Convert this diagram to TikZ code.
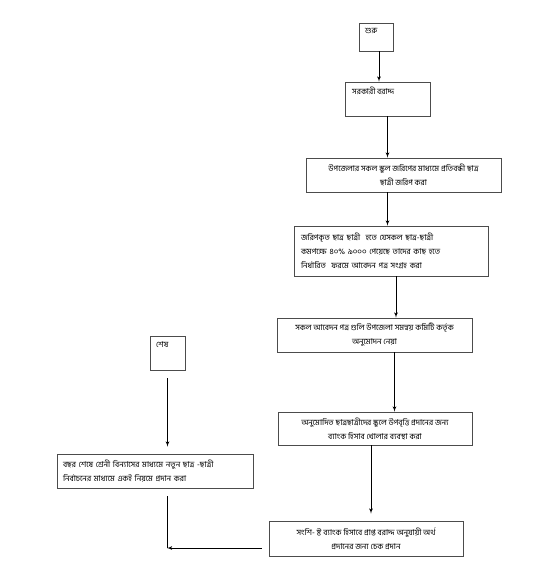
\documentclass[tikz,border=0pt]{standalone}
\usepackage{fontspec}
\newfontfamily\bnfont[Script=Bengali]{Hind Siliguri}
\usepackage{tikz}
\usetikzlibrary{positioning}
\usetikzlibrary{shapes,backgrounds,arrows}
\tikzstyle{line} = [draw, line width=0.8pt, -latex']
\tikzstyle{plain} = [draw, line width=0.8pt]
\tikzstyle{block} = [draw=black!70, line width=0.8pt, rectangle, inner sep=0pt,
  font=\bnfont\fontsize{8}{14}\selectfont]

\begin{document}
\begin{tikzpicture}[x=1pt, y=-1pt]
	\useasboundingbox (0,0) rectangle (534,571);

	% main column
	\node[block, minimum width=34pt, minimum height=28pt] (start) at (376,37) {};
	\node[anchor=north west, inner sep=0pt, font=\bnfont\fontsize{8}{14}\selectfont] (starttxt) at (365,28) {শুরু};
	\node[block, minimum width=85pt, minimum height=34pt] (gov) at (387.5,99) {};
	\node[anchor=north west, inner sep=0pt, font=\bnfont\fontsize{8}{14}\selectfont] (govtxt) at (352,87) {সরকারী বরাদ্দ};
	\node[block, minimum width=195pt, minimum height=34pt, align=center] (survey) at (403.5,175)
		{উপজেলার সকল স্কুল জরিপের মাধ্যমে প্রতিবন্ধী ছাত্র\\ছাত্রী জরিপ করা};
	\node[block, minimum width=194pt, minimum height=50pt, text width=180pt, align=left] (collect) at (391,251)
		{জরিপকৃত ছাত্র ছাত্রী\ \ হতে যেসকল ছাত্র-ছাত্রী\\কমপক্ষে ৪০\% ৯০০০ পেয়েছে তাদের কাছ হতে\\নির্ধারিত\ \ ফরমে আবেদন পত্র সংগ্রহ করা};
	\node[block, minimum width=195pt, minimum height=34pt, align=center] (approve) at (374.5,335)
		{সকল আবেদন পত্র গুলি উপজেলা সমন্বয় কমিটি কর্তৃক\\অনুমোদন নেয়া};
	\node[block, minimum width=194pt, minimum height=33pt, align=center] (account) at (375,428.5)
		{অনুমোদিত ছাত্রছাত্রীদের স্কুলে উপবৃত্তি প্রদানের জন্য\\ব্যাংক হিসাব খোলার ব্যবস্থা করা};
	\node[block, minimum width=194pt, minimum height=35pt, align=center] (cheque) at (366,538.5)
		{সংশি- ষ্ট ব্যাংক হিসাবে প্রাপ্ত বরাদ্দ অনুযায়ী অর্থ\\প্রদানের জন্য চেক প্রদান};

	% left column
	\node[block, minimum width=35pt, minimum height=34pt] (finish) at (167.5,353) {};
	\node[anchor=north west, inner sep=0pt, font=\bnfont\fontsize{8}{14}\selectfont] (finishtxt) at (156,341) {শেষ};
	\node[block, minimum width=196pt, minimum height=34pt, text width=184pt, align=left] (yearend) at (155,471)
		{বছর শেষে শ্রেনী বিন্যাসের মাধ্যমে নতুন ছাত্র -ছাত্রী\\নির্বাচনের মাধ্যমে একই নিয়মে প্রদান করা};
	\coordinate (join) at (167,548);

	% connectors
	\path[line] ([xshift=3pt]start.south) -- ([xshift=3pt]start.south |- gov.north);
	\path[line] (gov.south) -- (gov.south |- survey.north);
	\path[line] (gov.south |- survey.south) -- (gov.south |- collect.north);
	\path[line] ([xshift=5pt]collect.south) -- ([xshift=5pt]collect.south |- approve.north);
	\path[line] ([xshift=20pt]approve.south) -- ([xshift=20pt]approve.south |- account.north);
	\path[line, shorten >=7pt] ([xshift=-4pt]account.south) -- ([xshift=-4pt]account.south |- cheque.north);
	\path[line, shorten <=8pt, shorten >=7pt] (finish.south) -- (finish.south |- yearend.north);
	\path[plain, shorten <=8pt] (join |- yearend.south) -- (join);
	\path[line, shorten <=7pt] (cheque.west |- join) -- (join);
\end{tikzpicture}
\end{document}
